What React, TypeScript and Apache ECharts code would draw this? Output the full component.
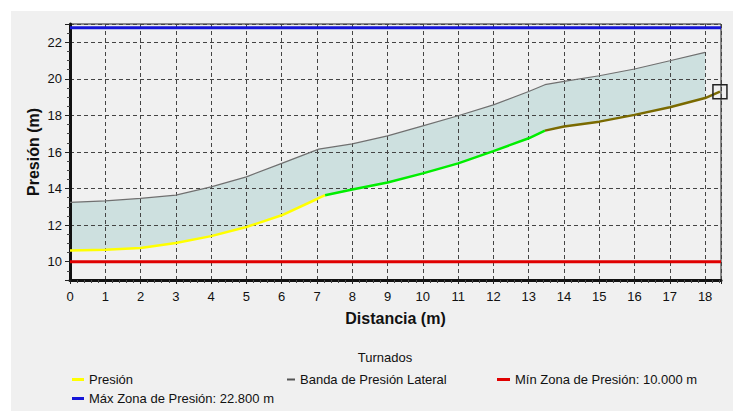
import React, { useEffect, useRef } from 'react';
import * as echarts from 'echarts';

// Presión (m) along Distancia (m)
const presionX = [0, 1, 2, 3, 4, 5, 6, 7, 7.23, 8, 9, 10, 11, 12, 13, 13.46, 14, 15, 16, 17, 18, 18.42];
const presionY = [10.62, 10.66, 10.75, 11.02, 11.4, 11.9, 12.54, 13.43, 13.64, 13.95, 14.33, 14.83, 15.38, 16.05, 16.75, 17.17, 17.39, 17.66, 18.03, 18.45, 18.95, 19.3];
// segment break points of the Presión line (colour changes)
const breakGreen = 7.23;
const breakOlive = 13.46;

// Banda de Presión Lateral (upper limit)
const bandaX = [0, 1, 2, 3, 4, 5, 6, 7.05, 8, 9, 10, 11, 12, 13, 13.46, 14, 15, 16, 17, 18];
const bandaY = [13.24, 13.33, 13.46, 13.64, 14.09, 14.64, 15.38, 16.16, 16.44, 16.88, 17.43, 17.98, 18.58, 19.31, 19.68, 19.86, 20.17, 20.54, 20.99, 21.45];

const minZona = 10.0;
const maxZona = 22.8;
const xMin = 0;
const xMax = 18.45;
const yMin = 9;
const yMax = 23;

const FONT = "'Liberation Sans', Arial, sans-serif";

export default function App() {
  const ref = useRef<HTMLDivElement>(null);
  useEffect(() => {
    const chart = echarts.init(ref.current!, null, { renderer: 'svg' });
    const pts = presionX.map((x, i) => [x, presionY[i]]);
    const yellow = pts.filter((p) => p[0] <= breakGreen);
    const green = pts.filter((p) => p[0] >= breakGreen && p[0] <= breakOlive);
    const oliveRaw = pts.filter((p) => p[0] >= breakOlive);
    const olive: any[] = oliveRaw.map((p, i) =>
      i === oliveRaw.length - 1
        ? {
            value: p,
            symbol: 'rect',
            symbolSize: 14,
            itemStyle: { color: 'rgba(0,0,0,0)', borderColor: '#222', borderWidth: 1.5 },
          }
        : p
    );
    const bandaPts = bandaX.map((x, i) => [x, bandaY[i]]);
    const bandEnd = bandaX[bandaX.length - 1];
    const lowerPts = pts.filter((p) => p[0] <= bandEnd).reverse();

    const mkLegend = (name: string, left: number, top: number, w: number, h: number) => ({
      data: [name],
      left,
      top,
      padding: 0,
      icon: 'rect',
      itemWidth: w,
      itemHeight: h,
      itemGap: 4,
      selectedMode: false,
      textStyle: { fontFamily: FONT, fontSize: 13, color: '#111' },
    });

    const option: any = {
      animation: false,
      backgroundColor: '#ffffff',
      textStyle: { fontFamily: FONT },
      graphic: [
        {
          type: 'rect',
          z: -100,
          silent: true,
          shape: { x: 11, y: 11, width: 722, height: 400 },
          style: { fill: '#f0f0f0' },
        },
        {
          type: 'text',
          x: 385,
          y: 357,
          style: {
            text: 'Turnados',
            fontFamily: FONT,
            fontSize: 13,
            fill: '#111',
            align: 'center',
            verticalAlign: 'middle',
          },
        },
      ],
      legend: [
        mkLegend('Presión', 72, 373, 12, 3),
        mkLegend('Banda de Presión Lateral', 287, 373, 8, 2),
        mkLegend('Mín Zona de Presión: 10.000 m', 497, 373, 13, 3),
        mkLegend('Máx Zona de Presión: 22.800 m', 72, 392, 12, 3),
      ],
      grid: {
        left: 70,
        top: 24,
        right: 12,
        bottom: 134,
        show: true,
        borderColor: '#222',
        borderWidth: 1,
        backgroundColor: 'rgba(0,0,0,0)',
      },
      xAxis: {
        type: 'value',
        min: xMin,
        max: xMax,
        interval: 1,
        name: 'Distancia (m)',
        nameLocation: 'middle',
        nameGap: 30,
        nameMoveOverlap: false,
        nameTextStyle: { fontFamily: FONT, fontSize: 16, fontWeight: 'bold', color: '#111' },
        axisLine: { show: true, onZero: false, lineStyle: { color: '#111', width: 3 } },
        axisTick: { show: true, length: 4, lineStyle: { color: '#222' } },
        minorTick: { show: true, splitNumber: 5, length: 3, lineStyle: { color: '#444' } },
        axisLabel: { showMaxLabel: false, margin: 10, fontFamily: FONT, fontSize: 13, color: '#111' },
        splitLine: { show: true, lineStyle: { color: '#444', type: [4, 3], width: 1 } },
      },
      yAxis: {
        type: 'value',
        min: yMin,
        max: yMax,
        splitNumber: 7,
        name: 'Presión (m)',
        nameLocation: 'middle',
        nameGap: 29,
        nameMoveOverlap: false,
        nameTextStyle: { fontFamily: FONT, fontSize: 16, fontWeight: 'bold', color: '#111' },
        axisLine: { show: true, onZero: false, lineStyle: { color: '#111', width: 3 } },
        axisTick: { show: true, length: 5, lineStyle: { color: '#222' } },
        minorTick: { show: true, splitNumber: 4, length: 3, lineStyle: { color: '#444' } },
        axisLabel: { showMinLabel: false, showMaxLabel: false, margin: 8, fontFamily: FONT, fontSize: 13, color: '#111' },
        splitLine: { show: true, lineStyle: { color: '#444', type: [4, 3], width: 1 } },
      },
      series: [
        {
          type: 'custom',
          name: 'fill',
          z: -1,
          silent: true,
          data: [[0, 0]],
          renderItem: (params: any, api: any) => {
            const poly = bandaPts.concat(lowerPts).map((p) => api.coord(p));
            return {
              type: 'polygon',
              shape: { points: poly },
              style: { fill: '#cde0df', stroke: 'none' },
            };
          },
        },
        {
          type: 'line',
          name: 'Banda de Presión Lateral',
          data: bandaPts,
          symbol: 'none',
          itemStyle: { color: '#555' },
          lineStyle: { color: '#707070', width: 1.2 },
        },
        {
          type: 'line',
          name: 'Mín Zona de Presión: 10.000 m',
          data: [[xMin, minZona], [xMax, minZona]],
          symbol: 'none',
          itemStyle: { color: '#e00000' },
          lineStyle: { color: '#e00000', width: 3 },
        },
        {
          type: 'line',
          name: 'Máx Zona de Presión: 22.800 m',
          data: [[xMin, maxZona], [xMax, maxZona]],
          symbol: 'none',
          itemStyle: { color: '#1515d8' },
          lineStyle: { color: '#1515d8', width: 3 },
        },
        {
          type: 'line',
          name: 'Presión',
          data: yellow,
          symbol: 'none',
          itemStyle: { color: '#ffff00' },
          lineStyle: { color: '#ffff00', width: 2.5 },
        },
        {
          type: 'line',
          name: 'Presión (tramo 2)',
          data: green,
          symbol: 'none',
          itemStyle: { color: '#00ee00' },
          lineStyle: { color: '#00ee00', width: 2.5 },
        },
        {
          type: 'line',
          name: 'Presión (tramo 3)',
          data: olive,
          symbol: 'none',
          clip: false,
          itemStyle: { color: '#7a6a00' },
          lineStyle: { color: '#7a6a00', width: 2.5 },
        },
      ],
    };
    chart.setOption(option);
    return () => chart.dispose();
  }, []);
  return (
    <div
      ref={ref}
      style={{ position: 'absolute', left: 0, top: 0, width: 733, height: 414 }}
    />
  );
}
